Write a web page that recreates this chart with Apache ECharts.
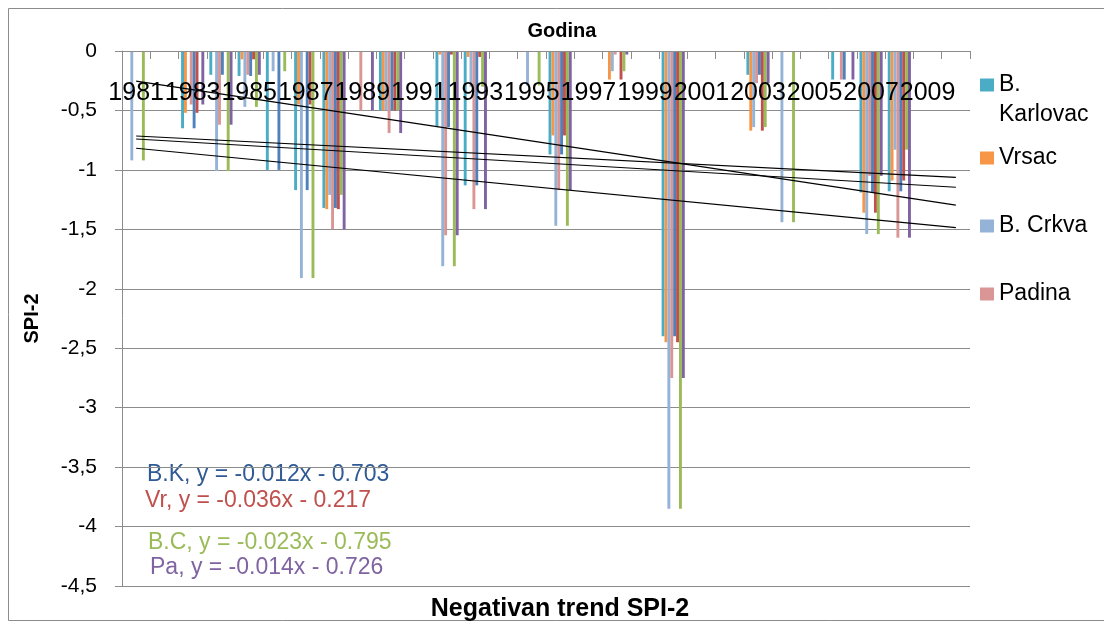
<!DOCTYPE html>
<html>
<head>
<meta charset="utf-8">
<script src="https://cdn.jsdelivr.net/npm/echarts@6/dist/echarts.min.js"></script>
<style>
html,body{margin:0;padding:0;background:#fff;}
#chart{width:1104px;height:628px;}
</style>
</head>
<body>
<div id="chart"></div>
<script>
// ---- data ----
const years = ['1981','1982','1983','1984','1985','1986','1987','1988','1989','1990',
               '1991','1992','1993','1994','1995','1996','1997','1998','1999','2000',
               '2001','2002','2003','2004','2005','2006','2007','2008','2009','2010'];
const bKarlovac = [0,0,-0.65,-0.20,-0.21,-1.00,-1.17,-1.32,0,-0.50,
                   0,-0.64,-1.13,0,0,-0.87,0,0,0,-2.40,
                   0,0,-0.20,0,0,-0.24,-1.19,-1.18,0,0];
const vrsac     = [0,0,-0.52,0,-0.07,0,-0.45,-1.33,0,-0.50,
                   0,-0.03,-0.05,0,0,-0.71,0,-0.24,0,-2.45,
                   0,0,-0.67,0,0,0,-1.36,-1.09,0,0];
const bCrkva    = [-0.92,0,0,-1.01,-0.47,-0.17,-1.91,-1.21,0,-0.50,
                   0,-1.81,-0.30,0,-0.29,-1.47,0,-0.17,0,-3.85,
                   0,0,-0.64,-1.44,0,0,-1.54,-0.83,0,0];
const padina    = [0,0,-0.45,-0.62,-0.20,0,0,-1.50,-0.50,-0.69,
                   0,-1.55,-1.33,0,0,-1.17,0,-0.03,0,-2.75,
                   0,0,-0.27,0,0,-0.24,-1.05,-1.57,0,0];
const trendNames = ['B.K','Vr','B.C','Pa'];
const trendSlopes = [-0.012,-0.036,-0.023,-0.014];
const trendIntercepts = [-0.703,-0.217,-0.795,-0.726];
const trendLabels = ['B.K, y = -0.012x - 0.703','Vr, y = -0.036x - 0.217',
                     'B.C, y = -0.023x - 0.795','Pa, y = -0.014x - 0.726'];

// ---- chart ----
const FONT = 'Liberation Sans, Arial, sans-serif';
const GRID = '#8c8c8c';
const chart = echarts.init(document.getElementById('chart'), null, {renderer:'canvas'});

const stations = [
  {name:'B. Karlovac', data:bKarlovac, color:'#4BACC6'},
  {name:'Vrsac',       data:vrsac,     color:'#F79646'},
  {name:'B. Crkva',    data:bCrkva,    color:'#95B3D7'},
  {name:'Padina',      data:padina,    color:'#D99694'},
  {name:'B.K',         data:bKarlovac, color:'#4F81BD'},
  {name:'Vr',          data:vrsac,     color:'#C0504D'},
  {name:'B.C',         data:bCrkva,    color:'#9BBB59'},
  {name:'Pa',          data:padina,    color:'#8064A2'}
];

const series = stations.map(s => ({
  type:'bar', name:s.name, data:s.data,
  itemStyle:{color:s.color},
  barGap:'0%', barCategoryGap:'18%',
  silent:true, animation:false, z:2
}));

trendNames.forEach((n,i) => {
  const first = 1, last = years.length;
  series.push({
    type:'line', name:'Linear (' + n + ')',
    data:[[0, trendSlopes[i]*first + trendIntercepts[i]],
          [years.length-1, trendSlopes[i]*last + trendIntercepts[i]]],
    symbol:'none', lineStyle:{color:'#000', width:1.2},
    silent:true, animation:false, z:6
  });
});

const eqColors = ['#2F5A94','#C0504D','#9BBB59','#8064A2'];
const eqPos = [[147,475],[145,501],[148,543],[150,568]];

chart.setOption({
  animation:false,
  backgroundColor:'#fff',
  textStyle:{fontFamily:FONT},
  title:[
    {
      text:'Godina', left:557, top:16, textAlign:'center',
      textStyle:{fontFamily:FONT, fontSize:20, fontWeight:'bold', color:'#000'}
    },
    {
      text:'Negativan trend SPI-2', left:555, top:592, textAlign:'center',
      textStyle:{fontFamily:FONT, fontSize:25, fontWeight:'bold', color:'#000'}
    }
  ],
  legend:[
    {
      data:['B. Karlovac'],
      orient:'vertical', left:980, top:40, padding:0,
      itemWidth:14, itemHeight:13, icon:'rect',
      formatter: n => '\nB.\nKarlovac',
      textStyle:{fontFamily:FONT, fontSize:23, color:'#000', lineHeight:30},
      selectedMode:false
    },
    {
      data:['Vrsac','B. Crkva','Padina'],
      orient:'vertical', left:980, top:146, padding:0,
      itemWidth:14, itemHeight:13, icon:'rect', itemGap:44,
      textStyle:{fontFamily:FONT, fontSize:23, color:'#000', lineHeight:24},
      selectedMode:false
    }
  ],
  grid:{left:122, top:51, right:134, bottom:42, containLabel:false},
  xAxis:{
    type:'category', data:years, position:'top', z:4,
    boundaryGap:true,
    axisLine:{show:true, lineStyle:{color:GRID, width:1}},
    axisTick:{show:true, inside:true, length:8, interval:0, lineStyle:{color:GRID}},
    axisLabel:{inside:true, interval:1, margin:30, fontSize:25, color:'#000', fontFamily:FONT}
  },
  yAxis:{
    type:'value', min:-4.5, max:0, interval:0.5,
    axisLine:{show:true, lineStyle:{color:GRID, width:1}},
    axisTick:{show:true, length:7, lineStyle:{color:GRID}},
    splitLine:{show:true, lineStyle:{color:GRID, width:1}},
    axisLabel:{margin:25, fontSize:21, color:'#000', fontFamily:FONT,
               formatter: v => String(v).replace('.', ',')},
    name:'SPI-2', nameLocation:'middle', nameGap:80,
    nameTextStyle:{fontFamily:FONT, fontSize:20, fontWeight:'bold', color:'#000'}
  },
  graphic:[
    {type:'rect', shape:{x:8.5, y:8.5, width:1110, height:612}, style:{fill:'none', stroke:'#8c8c8c', lineWidth:1}, silent:true}
  ].concat(trendLabels.map((t,i) => ({
    type:'text', x:eqPos[i][0], y:eqPos[i][1],
    style:{text:t, fill:eqColors[i], font:'23px ' + FONT, verticalAlign:'middle'},
    silent:true
  }))),
  series:series
});
</script>
</body>
</html>
